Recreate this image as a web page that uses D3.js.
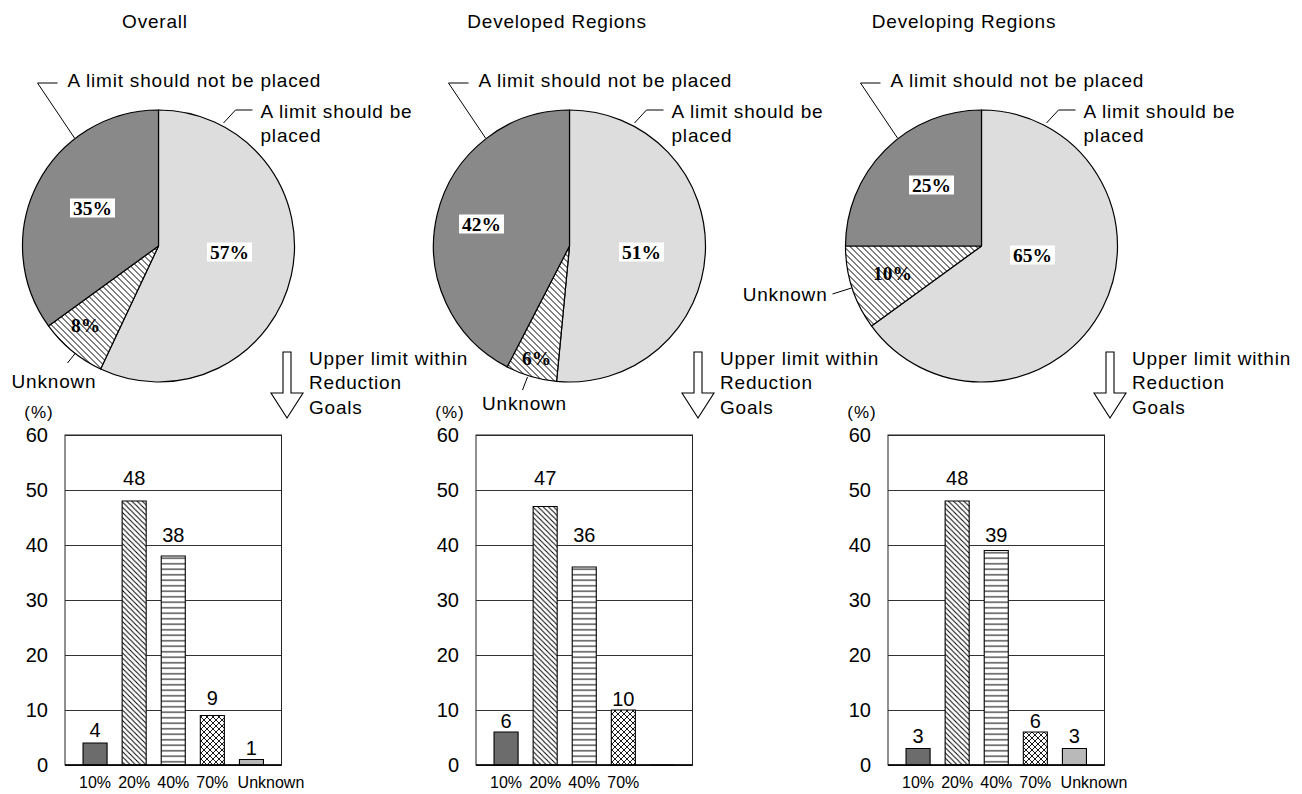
<!DOCTYPE html>
<html>
<head>
<meta charset="utf-8">
<script src="https://cdn.jsdelivr.net/npm/d3@7"></script>
<style>
  body { margin: 0; background: #fff; }
  svg { display: block; }
  text { font-family: "Liberation Sans", Arial, sans-serif; fill: #000; }
</style>
</head>
<body>
<svg id="chart" width="1302" height="794"></svg>
<script>
// ---- data ----
const panelTitles = ["Overall", "Developed Regions", "Developing Regions"];

const pieCategories = ["A limit should be placed", "Unknown", "A limit should not be placed"];
const pieOverall    = [57, 8, 35];
const pieDeveloped  = [51, 6, 42];
const pieDeveloping = [65, 10, 25];

const barCategories = ["10%", "20%", "40%", "70%", "Unknown"];
const barOverall    = [4, 48, 38, 9, 1];
const barDeveloped  = [6, 47, 36, 10, 0];
const barDeveloping = [3, 48, 39, 6, 3];

const barTickLabelsOverall    = ["10%", "20%", "40%", "70%", "Unknown"];
const barTickLabelsDeveloped  = ["10%", "20%", "40%", "70%", ""];
const barTickLabelsDeveloping = ["10%", "20%", "40%", "70%", "Unknown"];

const yTicks = [0, 10, 20, 30, 40, 50, 60];
const yUnit = "(%)";
const arrowCaption = ["Upper limit within", "Reduction", "Goals"];

// ---- layout ----
const plotTop = 435, plotBottom = 765, plotWidth = 216.5;
const pieRadius = 136, pieCy = 246;
const tickShift = [0, 0, 0, 0, 19.5];   // last category label sits right of its bar

const panels = [
  { title: panelTitles[0], titleX: 155, left: 65,  pie: pieOverall,    bars: barOverall,    ticks: barTickLabelsOverall,
    pieLabelPos: [[71, 6], [-73, 79], [-66, -38]],
    unknownLine: [[-83, 107], [-91, 117]], unknownText: { x: -104.5, y: 142, anchor: "middle" },
    valueLift: [6, 16, 14.5, 10.5, 4.5] },
  { title: panelTitles[1], titleX: 557, left: 476, pie: pieDeveloped,  bars: barDeveloped,  ticks: barTickLabelsDeveloped,
    pieLabelPos: [[72, 6], [-33, 112], [-88, -22]],
    unknownLine: [[-42, 131], [-47, 144]], unknownText: { x: -45, y: 164, anchor: "middle" },
    valueLift: [4, 21.5, 25.5, 4.3, null] },
  { title: panelTitles[2], titleX: 964, left: 888, pie: pieDeveloping, bars: barDeveloping, ticks: barTickLabelsDeveloping,
    pieLabelPos: [[51, 9], [-89, 27], [-50, -61]],
    unknownLine: [[-130, 42], [-149, 48]], unknownText: { x: -154, y: 55, anchor: "end" },
    valueLift: [5.2, 16, 8.8, 4, 5.2] }
];

const svg = d3.select("#chart");
const defs = svg.append("defs");

// hatch "\\\\" (down-right diagonals)
function diagPattern(id, step, sw) {
  const p = defs.append("pattern").attr("id", id)
    .attr("patternUnits", "userSpaceOnUse").attr("width", step).attr("height", step);
  p.append("rect").attr("width", step).attr("height", step).attr("fill", "#fff");
  p.append("path")
    .attr("d", `M0,0L${step},${step}M${-step/2},${step/2}L${step/2},${step*1.5}M${step/2},${-step/2}L${step*1.5},${step/2}`)
    .attr("stroke", "#000").attr("stroke-width", sw);
}
diagPattern("hatchDiag", 5.2, 1);
diagPattern("hatchPie", 6, 1);

// horizontal stripes
{
  const s = 5.5;
  const p = defs.append("pattern").attr("id", "hatchHoriz")
    .attr("patternUnits", "userSpaceOnUse").attr("width", 10).attr("height", s);
  p.append("rect").attr("width", 10).attr("height", s).attr("fill", "#fff");
  p.append("line").attr("x1", 0).attr("x2", 10).attr("y1", s / 2).attr("y2", s / 2)
    .attr("stroke", "#000").attr("stroke-width", 1);
}
// crosshatch
{
  const s = 6;
  const p = defs.append("pattern").attr("id", "hatchCross")
    .attr("patternUnits", "userSpaceOnUse").attr("width", s).attr("height", s);
  p.append("rect").attr("width", s).attr("height", s).attr("fill", "#fff");
  p.append("path").attr("d", `M0,0L${s},${s}M${s},0L0,${s}`)
    .attr("stroke", "#000").attr("stroke-width", 0.9);
}

const pieFills = ["#dddddd", "url(#hatchPie)", "#898989"];
const barFills = ["#6c6c6c", "url(#hatchDiag)", "url(#hatchHoriz)", "url(#hatchCross)", "#b9b9b9"];

const pie = d3.pie().sort(null).value(d => d.value);
const arc = d3.arc().innerRadius(0).outerRadius(pieRadius);

const y = d3.scaleLinear().domain([0, 60]).range([plotBottom, plotTop]);

panels.forEach(p => {
  const g = svg.append("g");
  const cx = p.left + 93.5;

  // title
  g.append("text").attr("x", p.titleX).attr("y", 27.5).attr("text-anchor", "middle")
    .style("font-size", "19px").style("letter-spacing", "0.8px").text(p.title);

  // ---- pie ----
  const pg = g.append("g").attr("transform", `translate(${cx},${pieCy})`);
  const slices = pie(pieCategories.map((c, i) => ({ cat: c, value: p.pie[i] })));
  pg.selectAll("path.slice").data(slices).join("path")
    .attr("class", "slice")
    .attr("d", arc)
    .attr("fill", (d, i) => pieFills[i])
    .attr("stroke", "#000").attr("stroke-width", 1.2).attr("stroke-linejoin", "round");

  // callout lines
  const line = d3.line();
  const leaderStyle = sel => sel.attr("fill", "none").attr("stroke", "#000").attr("stroke-width", 1);
  pg.append("path").attr("d", line([[-84, -108], [-121, -163], [-101, -163]])).call(leaderStyle);
  pg.append("text").attr("x", -91).attr("y", -159)
    .style("font-size", "19px").style("letter-spacing", "0.8px").text(pieCategories[2]);

  pg.append("path").attr("d", line([[65, -123], [77, -136], [94, -136]])).call(leaderStyle);
  const placedWords = pieCategories[0].split(" ");
  pg.append("text").attr("x", 102).attr("y", -128)
    .style("font-size", "19px").style("letter-spacing", "0.8px").text(placedWords.slice(0, 4).join(" "));
  pg.append("text").attr("x", 102).attr("y", -104.5)
    .style("font-size", "19px").style("letter-spacing", "0.8px").text(placedWords.slice(4).join(" "));

  pg.append("path").attr("d", line(p.unknownLine)).call(leaderStyle);
  pg.append("text").attr("x", p.unknownText.x).attr("y", p.unknownText.y)
    .attr("text-anchor", p.unknownText.anchor)
    .style("font-size", "19px").style("letter-spacing", "0.8px").text(pieCategories[1]);

  // percentage labels
  slices.forEach((d, i) => {
    const [lx, ly] = p.pieLabelPos[i];
    const lg = pg.append("g");
    const t = lg.append("text").attr("x", lx).attr("y", ly + 6.6).attr("text-anchor", "middle")
      .style("font-family", "'Liberation Serif', 'Times New Roman', serif")
      .style("font-weight", "bold").style("font-size", "19.5px")
      .text(d.data.value + "%");
    if (i !== 1) {
      const bb = t.node().getBBox();
      lg.insert("rect", "text")
        .attr("x", bb.x - 3).attr("y", ly - 9.5).attr("width", bb.width + 6).attr("height", 19)
        .attr("fill", "#fff");
    }
  });

  // ---- arrow + caption ----
  const ax = p.left;
  const arrowPts = [[ax + 218, 352], [ax + 226, 352], [ax + 226, 393], [ax + 238, 393],
                    [ax + 222, 418], [ax + 206, 393], [ax + 218, 393]];
  g.append("path").attr("d", d3.line()(arrowPts) + "Z")
    .attr("fill", "#fff").attr("stroke", "#000").attr("stroke-width", 1.1).attr("stroke-linejoin", "miter");
  arrowCaption.forEach((s, i) => {
    g.append("text").attr("x", ax + 244).attr("y", 365 + i * 24.3)
      .style("font-size", "19px").style("letter-spacing", "0.8px").text(s);
  });

  // ---- bar chart ----
  const x = d3.scaleBand().domain(barCategories)
    .range([p.left, p.left + plotWidth]).paddingInner(0.385).paddingOuter(0.4615);

  const bg = g.append("g");
  // grid + y labels
  const yAxis = d3.axisLeft(y).tickValues(yTicks).tickSizeInner(-plotWidth).tickSizeOuter(0).tickPadding(17);
  const ya = bg.append("g").attr("transform", `translate(${p.left},0)`).call(yAxis);
  ya.select(".domain").remove();
  ya.selectAll(".tick line").attr("stroke", "#333").attr("stroke-width", 1);
  ya.selectAll(".tick text").style("font-size", "20px").style("font-family", "'Liberation Sans', Arial, sans-serif").attr("fill", "#000");

  bg.append("text").attr("x", p.left - 26).attr("y", 418).attr("text-anchor", "middle")
    .style("font-size", "17px").style("letter-spacing", "1px").text(yUnit);

  // bars
  const barData = barCategories.map((c, i) => ({ cat: c, value: p.bars[i], i }));
  const barPath = d => {
    const x0 = x(d.cat), x1 = x0 + x.bandwidth(), y0 = y(0), y1 = y(d.value);
    return `M${x0},${y0}V${y1}H${x1}V${y0}Z`;
  };
  bg.selectAll("path.barbg").data(barData).join("path").attr("class", "barbg")
    .attr("d", barPath).attr("fill", "#fff");
  bg.selectAll("path.bar").data(barData).join("path").attr("class", "bar")
    .attr("d", barPath).attr("fill", d => barFills[d.i])
    .attr("stroke", "#000").attr("stroke-width", 1.1);

  // frame
  bg.append("rect").attr("x", p.left).attr("y", plotTop).attr("width", plotWidth).attr("height", plotBottom - plotTop)
    .attr("fill", "none").attr("stroke", "#222").attr("stroke-width", 1);
  bg.append("line").attr("x1", p.left).attr("x2", p.left + plotWidth).attr("y1", plotBottom).attr("y2", plotBottom)
    .attr("stroke", "#000").attr("stroke-width", 1.4);

  // value labels
  bg.selectAll("text.val").data(barData.filter(d => p.valueLift[d.i] !== null)).join("text")
    .attr("class", "val")
    .attr("x", d => x(d.cat) + x.bandwidth() / 2)
    .attr("y", d => y(d.value) - p.valueLift[d.i])
    .attr("text-anchor", "middle").style("font-size", "20px")
    .text(d => d.value);

  // x labels
  const xAxis = d3.axisBottom(x).tickSize(0).tickPadding(11.6).tickFormat((c, i) => p.ticks[i]);
  const xa = bg.append("g").attr("transform", `translate(0,${plotBottom})`).call(xAxis);
  xa.select(".domain").remove();
  xa.selectAll(".tick text")
    .attr("dx", (c, i) => tickShift[i])
    .style("font-size", "16px").style("font-family", "'Liberation Sans', Arial, sans-serif").attr("fill", "#000");
});
</script>
</body>
</html>
